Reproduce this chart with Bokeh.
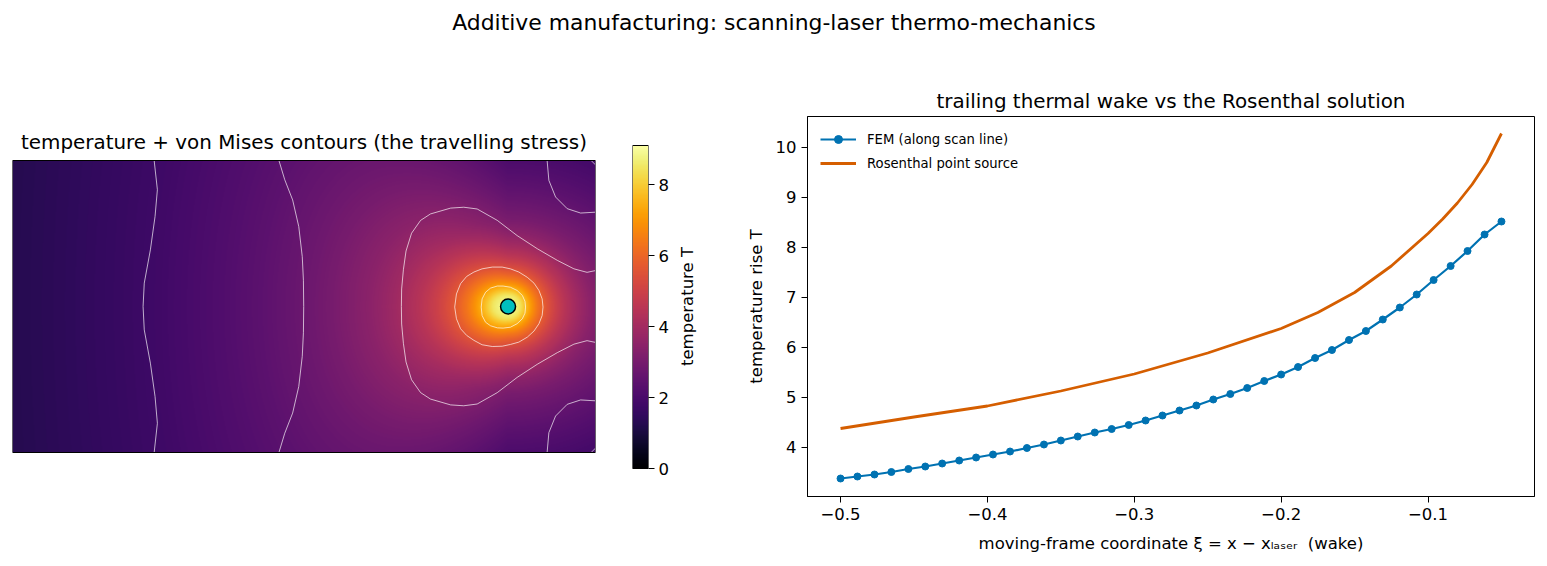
import math
import numpy as np
from bokeh.plotting import figure
from bokeh.layouts import column, row
from bokeh.models import Range1d, LinearColorMapper, FixedTicker, Legend, LegendItem, Label
from bokeh.palettes import Inferno256
from bokeh.embed import file_html
from bokeh.resources import INLINE

FONT = "DejaVu Sans"

# ---------------- right panel data ----------------
fem_xi = [-0.5, -0.4885, -0.4769, -0.4654, -0.4538, -0.4423, -0.4308, -0.4192,
          -0.4077, -0.3962, -0.3846, -0.3731, -0.3615, -0.35, -0.3385, -0.3269,
          -0.3154, -0.3038, -0.2923, -0.2808, -0.2692, -0.2577, -0.2462, -0.2346,
          -0.2231, -0.2115, -0.2, -0.1885, -0.1769, -0.1654, -0.1538, -0.1423,
          -0.1308, -0.1192, -0.1077, -0.0962, -0.0846, -0.0731, -0.0615, -0.05]
fem_T = [3.37, 3.41, 3.45, 3.50, 3.56, 3.61, 3.67, 3.73, 3.79, 3.85, 3.91, 3.98,
         4.05, 4.13, 4.21, 4.29, 4.36, 4.44, 4.53, 4.63, 4.73, 4.83, 4.95, 5.06,
         5.18, 5.32, 5.45, 5.60, 5.78, 5.94, 6.14, 6.32, 6.55, 6.79, 7.05, 7.34,
         7.62, 7.92, 8.25, 8.51]
ros_xi = [-0.5, -0.45, -0.4, -0.35, -0.3, -0.25, -0.2, -0.175, -0.15, -0.125,
          -0.1, -0.09, -0.08, -0.07, -0.06, -0.05]
ros_T = [4.37, 4.60, 4.82, 5.12, 5.46, 5.88, 6.37, 6.69, 7.09, 7.62,
         8.27, 8.56, 8.88, 9.25, 9.69, 10.27]
x_ticks = [-0.5, -0.4, -0.3, -0.2, -0.1]
x_tick_labels = ["\u22120.5", "\u22120.4", "\u22120.3", "\u22120.2", "\u22120.1"]
y_ticks = [4, 5, 6, 7, 8, 9, 10]
cbar_ticks = [0, 2, 4, 6, 8]

# ---------------- left panel data ----------------
dom_w, dom_h = 2.0, 1.0
laser_x, laser_y = 1.7, 0.5
T_peak = 9.1
far_r = [0.6, 0.7, 0.85, 1.0, 1.26, 1.5, 1.7, 2.6]
far_T = [3.02, 2.74, 2.40, 2.12, 1.70, 1.44, 1.26, 0.9]
aniso_r = [0.0, 0.1, 0.3, 0.6]
lat_stretch = [1.25, 1.5, 2.0, 2.1]
ahead_stretch = [1.2, 1.4, 1.7, 1.75]
wake_spread = 2.0

contour_a_x = [0.486, 0.497, 0.489, 0.473, 0.452, 0.448, 0.452, 0.473, 0.489, 0.497, 0.486]
contour_a_y = [1.0, 0.90, 0.808, 0.694, 0.58, 0.50, 0.42, 0.306, 0.192, 0.10, 0.0]
contour_b_x = [0.914, 0.934, 0.961, 0.982, 0.994, 0.998, 0.999, 0.998, 0.994, 0.982, 0.961, 0.934, 0.914]
contour_b_y = [1.0, 0.934, 0.865, 0.774, 0.671, 0.59, 0.50, 0.41, 0.329, 0.226, 0.135, 0.066, 0.0]
contour_c_x = [2.0, 1.971, 1.926, 1.869, 1.80, 1.731, 1.663, 1.594, 1.548, 1.503, 1.434, 1.40,
               1.369, 1.35, 1.341, 1.335, 1.334, 1.335, 1.341, 1.35, 1.369, 1.40, 1.434, 1.503,
               1.548, 1.594, 1.663, 1.731, 1.80, 1.869, 1.926, 1.971, 2.0]
contour_c_y = [0.623, 0.617, 0.629, 0.658, 0.698, 0.743, 0.795, 0.834, 0.84, 0.837, 0.817, 0.795,
               0.751, 0.69, 0.626, 0.56, 0.5, 0.44, 0.374, 0.31, 0.249, 0.205, 0.183, 0.163,
               0.16, 0.166, 0.205, 0.257, 0.302, 0.342, 0.371, 0.383, 0.377]
contour_d_x = [1.517, 1.523, 1.537, 1.558, 1.583, 1.611, 1.646, 1.680, 1.708, 1.737, 1.766, 1.789,
               1.806, 1.817, 1.820, 1.817, 1.806, 1.789, 1.766, 1.737, 1.708, 1.680, 1.646, 1.611,
               1.583, 1.558, 1.537, 1.523, 1.517]
contour_d_y = [0.498, 0.543, 0.578, 0.603, 0.618, 0.629, 0.635, 0.635, 0.629, 0.618, 0.600, 0.580,
               0.555, 0.526, 0.498, 0.469, 0.441, 0.416, 0.395, 0.378, 0.370, 0.364, 0.363, 0.369,
               0.384, 0.401, 0.424, 0.458, 0.498]
contour_e_x = [1.608, 1.611, 1.623, 1.640, 1.663, 1.683, 1.708, 1.731, 1.749, 1.758, 1.760, 1.758,
               1.749, 1.731, 1.708, 1.683, 1.663, 1.640, 1.623, 1.611, 1.608]
contour_e_y = [0.498, 0.526, 0.549, 0.563, 0.570, 0.570, 0.566, 0.555, 0.538, 0.518, 0.498, 0.477,
               0.458, 0.441, 0.429, 0.426, 0.427, 0.434, 0.446, 0.469, 0.498]
contour_f_x = [1.834, 1.840, 1.863, 1.903, 1.949, 2.0]
contour_f_y = [1.0, 0.932, 0.875, 0.835, 0.820, 0.823]
contour_g_x = [1.834, 1.840, 1.863, 1.903, 1.949, 2.0]
contour_g_y = [0.0, 0.068, 0.125, 0.165, 0.180, 0.177]
contour_h_x = [1.985, 2.0]
contour_h_y = [1.0, 0.985]
contour_i_x = [1.985, 2.0]
contour_i_y = [0.0, 0.015]

# ---------------- temperature field from the read profiles ----------------
prof_r = np.concatenate([[0.0], -np.array(fem_xi)[::-1], far_r])
prof_T = np.concatenate([[T_peak], np.array(fem_T)[::-1], far_T])
nx, ny = 583, 292
gx = (np.arange(nx) + 0.5) / nx * dom_w
gy = (np.arange(ny) + 0.5) / ny * dom_h
X, Y = np.meshgrid(gx, gy)
xi = X - laser_x
eta = Y - laser_y
r = np.hypot(xi, eta)
lat = np.interp(r, aniso_r, lat_stretch)
ahead = np.interp(r, aniso_r, ahead_stretch)
b = lat / (1.0 + wake_spread * np.clip(-xi, 0, None))
a = np.where(xi > 0, ahead, 1.0)
rho = np.hypot(xi * a, eta * b)
field = np.interp(rho, prof_r, prof_T)

mapper = LinearColorMapper(palette=Inferno256, low=0, high=T_peak)

# common frame band (all plots in the row share frame top/bottom)
H = 516
MB_TOP, MB_BOT = 66, 70
FRAME_H = H - MB_TOP - MB_BOT          # 380 px
HEAT_TOP_GAP, HEAT_BOT_GAP = 44, 44     # heat map sits inside the band
CBAR_TOP_GAP, CBAR_BOT_GAP = 29, 28

# ---------------- super title ----------------
sup = figure(width=1547, height=50, toolbar_location=None, output_backend="svg",
             x_axis_location=None, y_axis_location=None,
             x_range=Range1d(0, 1), y_range=Range1d(0, 1),
             min_border_left=0, min_border_right=0, min_border_top=34, min_border_bottom=0,
             title="Additive manufacturing: scanning-laser thermo-mechanics")
sup.outline_line_color = None
sup.xgrid.visible = False
sup.ygrid.visible = False
sup.title.align = "center"
sup.title.text_font = FONT
sup.title.text_font_size = "21.9px"
sup.title.text_font_style = "normal"
sup.title.text_color = "black"
sup.title.standoff = 0

# ---------------- left: heat map ----------------
heat_px = FRAME_H - HEAT_TOP_GAP - HEAT_BOT_GAP
y_lo = -HEAT_BOT_GAP / heat_px * dom_h
y_hi = dom_h + HEAT_TOP_GAP / heat_px * dom_h
left = figure(width=615, height=H, toolbar_location=None, output_backend="svg",
              x_axis_location=None, y_axis_location=None,
              x_range=Range1d(0, dom_w), y_range=Range1d(y_lo, y_hi),
              min_border_left=12, min_border_right=20, min_border_top=MB_TOP, min_border_bottom=MB_BOT)
left.outline_line_color = None
left.xgrid.visible = False
left.ygrid.visible = False
left.image(image=[field], x=0, y=0, dw=dom_w, dh=dom_h, color_mapper=mapper)
left.multi_line(xs=[contour_a_x, contour_b_x, contour_c_x, contour_d_x, contour_e_x,
                    contour_f_x, contour_g_x, contour_h_x, contour_i_x],
                ys=[contour_a_y, contour_b_y, contour_c_y, contour_d_y, contour_e_y,
                    contour_f_y, contour_g_y, contour_h_y, contour_i_y],
                line_color="white", line_alpha=0.75, line_width=0.9, line_join="round")
left.rect(x=dom_w / 2, y=dom_h / 2, width=dom_w, height=dom_h, fill_alpha=0,
          line_color="black", line_width=1)
left.scatter(x=[laser_x], y=[laser_y], size=15, fill_color="#00bfbf",
             line_color="black", line_width=1.5)
left.add_layout(Label(x=dom_w / 2, y=dom_h, y_offset=7, text_align="center", text_baseline="bottom",
                      text="temperature + von Mises contours (the travelling stress)",
                      text_font=FONT, text_font_size="19.9px", text_color="black"))

# ---------------- colour bar ----------------
cb_px = FRAME_H - CBAR_TOP_GAP - CBAR_BOT_GAP
cb_lo = -CBAR_BOT_GAP / cb_px * T_peak
cb_hi = T_peak + CBAR_TOP_GAP / cb_px * T_peak
cbar = figure(width=59, height=H, toolbar_location=None, output_backend="svg",
              x_axis_location=None, y_axis_location="right",
              x_range=Range1d(0, 1), y_range=Range1d(cb_lo, cb_hi),
              min_border_left=17, min_border_right=26, min_border_top=MB_TOP, min_border_bottom=MB_BOT)
cbar.outline_line_color = None
cbar.xgrid.visible = False
cbar.ygrid.visible = False
grad = np.linspace(0, T_peak, 256).reshape(256, 1)
cbar.image(image=[grad], x=0, y=0, dw=1, dh=T_peak, color_mapper=mapper)
cbar.rect(x=0.5, y=T_peak / 2, width=1, height=T_peak, fill_alpha=0, line_color="black", line_width=1)
cax = cbar.yaxis[0]
cax.ticker = FixedTicker(ticks=cbar_ticks)
cax.axis_line_color = None
cax.minor_tick_line_color = None
cax.major_tick_out = 6
cax.major_tick_in = 0
cax.major_label_standoff = 4
cax.major_label_text_font = FONT
cax.major_label_text_font_size = "16.5px"
cax.major_label_text_color = "black"

# colour-bar label (reads bottom to top, like a left-hand axis label)
lab = figure(width=46, height=H, toolbar_location=None, output_backend="svg",
             x_axis_location=None, y_axis_location="left",
             x_range=Range1d(0, 1), y_range=Range1d(0, 1),
             min_border_left=40, min_border_right=0, min_border_top=MB_TOP, min_border_bottom=MB_BOT)
lab.outline_line_color = None
lab.xgrid.visible = False
lab.ygrid.visible = False
lax = lab.yaxis[0]
lax.ticker = FixedTicker(ticks=[])
lax.axis_line_color = None
lax.major_tick_line_color = None
lax.minor_tick_line_color = None
lax.major_tick_out = 0
lax.major_label_standoff = 0
lax.major_label_text_font_size = "0px"
lax.axis_label = "temperature T"
lax.axis_label_text_font = FONT
lax.axis_label_text_font_size = "16.5px"
lax.axis_label_text_font_style = "normal"
lax.axis_label_text_color = "black"
lax.axis_label_standoff = 19

# ---------------- right: line chart ----------------
right = figure(width=827, height=H, toolbar_location=None, output_backend="svg",
               x_range=Range1d(-0.5225, -0.0275), y_range=Range1d(3.01, 10.61),
               min_border_left=87, min_border_right=13, min_border_top=MB_TOP, min_border_bottom=MB_BOT,
               title="trailing thermal wake vs the Rosenthal solution")
right.title.align = "center"
right.title.text_font = FONT
right.title.text_font_size = "19.9px"
right.title.text_font_style = "normal"
right.title.text_color = "black"
right.title.standoff = 8
right.outline_line_color = "black"
right.xgrid.visible = False
right.ygrid.visible = False
for ax in (right.xaxis[0], right.yaxis[0]):
    ax.minor_tick_line_color = None
    ax.major_tick_out = 6
    ax.major_tick_in = 0
    ax.major_label_standoff = 5
    ax.major_label_text_font = FONT
    ax.major_label_text_font_size = "16.5px"
    ax.major_label_text_color = "black"
    ax.axis_label_text_font = FONT
    ax.axis_label_text_font_size = "16.5px"
    ax.axis_label_text_font_style = "normal"
    ax.axis_label_text_color = "black"
right.xaxis[0].ticker = FixedTicker(ticks=x_ticks)
right.xaxis[0].major_label_overrides = dict(zip(x_ticks, x_tick_labels))
right.yaxis[0].ticker = FixedTicker(ticks=y_ticks)
right.xaxis[0].axis_label = "moving-frame coordinate \u03be = x \u2212 x\u2097\u2090\u209b\u2091\u1d63\u00a0\u00a0(wake)"
right.yaxis[0].axis_label = "temperature rise T"
right.xaxis[0].axis_label_standoff = 11
right.yaxis[0].axis_label_standoff = 7

fem_line = right.line(fem_xi, fem_T, line_color="#0072B2", line_width=2.2)
fem_pts = right.scatter(fem_xi, fem_T, size=7, fill_color="#0072B2", line_color="#0072B2")
ros_line = right.line(ros_xi, ros_T, line_color="#D55E00", line_width=2.8, line_join="round")

legend = Legend(items=[LegendItem(label="FEM (along scan line)", renderers=[fem_line, fem_pts]),
                       LegendItem(label="Rosenthal point source", renderers=[ros_line])],
                location="top_left")
legend.margin = 5
legend.padding = 8
legend.spacing = 4
legend.glyph_width = 36
legend.glyph_height = 20
legend.label_standoff = 11
legend.label_text_font = FONT
legend.label_text_font_size = "13.2px"
legend.label_text_color = "black"
legend.background_fill_alpha = 0
legend.border_line_alpha = 0
right.add_layout(legend)

layout = column(sup, row(left, cbar, lab, right))
open("out.html", "w").write(file_html(layout, INLINE))
